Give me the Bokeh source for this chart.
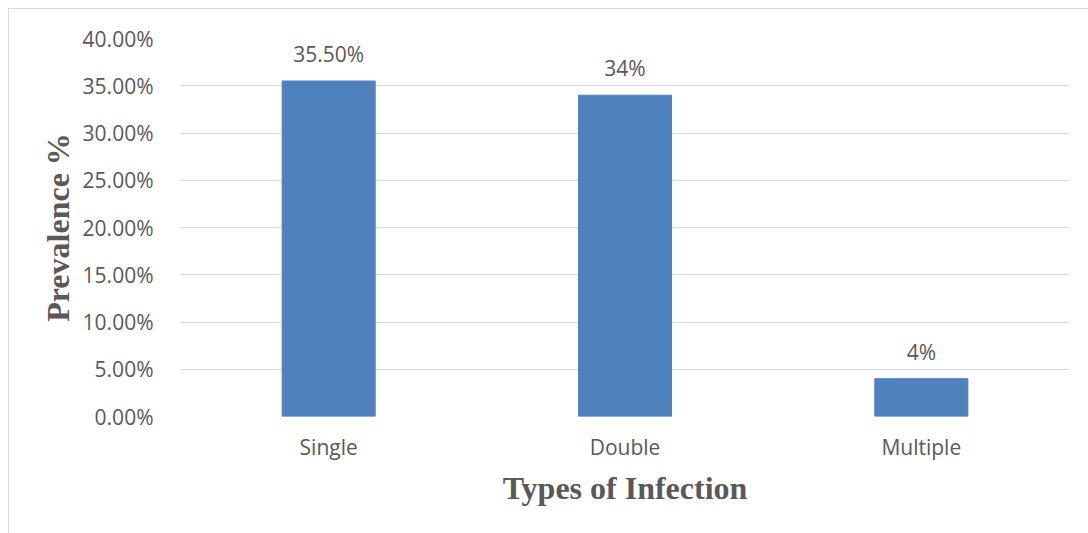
from bokeh.plotting import figure
from bokeh.models import ColumnDataSource, NumeralTickFormatter, FixedTicker, Range1d
from bokeh.core.properties import value
from bokeh.embed import file_html
from bokeh.resources import INLINE

# Prevalence by type of infection
categories = ["Single", "Double", "Multiple"]
prevalence = [0.355, 0.34, 0.04]
bar_labels = ["35.50%", "34%", "4%"]
y_ticks = [0.0, 0.05, 0.10, 0.15, 0.20, 0.25, 0.30, 0.35, 0.40]

TEXT = "#595959"
GRID = "#d9d9d9"
BAR = "#4F81BD"
LABEL_SIZE = "21px"

source = ColumnDataSource(dict(cat=categories, val=prevalence, lab=bar_labels))

p = figure(
    x_range=categories,
    y_range=Range1d(0, 0.40),
    width=1080, height=525,
    output_backend="svg",
    toolbar_location=None,
    min_border_left=171, min_border_right=20,
    min_border_top=29, min_border_bottom=118,
)
p.styles = {
    "margin-left": "8px",
    "margin-top": "8px",
    "border-top": f"1px solid {GRID}",
    "border-left": f"1px solid {GRID}",
}
p.outline_line_color = None
p.background_fill_color = "white"
p.border_fill_color = "white"

p.vbar(x="cat", top="val", width=0.314, source=source,
       fill_color=BAR, line_color=BAR)

p.text(x="cat", y="val", text="lab", source=source,
       text_align="center", text_baseline="alphabetic", y_offset=-27,
       text_font=value("Open Sans"), text_font_size=LABEL_SIZE, text_color=TEXT)

# y axis
p.yaxis.ticker = FixedTicker(ticks=y_ticks)
p.yaxis.formatter = NumeralTickFormatter(format="0.00%")
p.yaxis.axis_line_color = None
p.yaxis.major_tick_line_color = None
p.yaxis.minor_tick_line_color = None
p.yaxis.major_label_standoff = 21
p.yaxis.major_label_text_font = "Open Sans"
p.yaxis.major_label_text_font_size = LABEL_SIZE
p.yaxis.major_label_text_color = TEXT
p.yaxis.axis_label = "Prevalence %"
p.yaxis.axis_label_text_font = "Liberation Serif"
p.yaxis.axis_label_text_font_style = "bold"
p.yaxis.axis_label_text_font_size = "32px"
p.yaxis.axis_label_text_color = TEXT
p.yaxis.axis_label_standoff = 4

# x axis
p.xaxis.axis_line_color = None
p.xaxis.major_tick_line_color = None
p.xaxis.minor_tick_line_color = None
p.xaxis.major_label_standoff = 10
p.xaxis.major_label_text_font = "Open Sans"
p.xaxis.major_label_text_font_size = LABEL_SIZE
p.xaxis.major_label_text_color = TEXT
p.xaxis.axis_label = "Types of Infection"
p.xaxis.axis_label_text_font = "Liberation Serif"
p.xaxis.axis_label_text_font_style = "bold"
p.xaxis.axis_label_text_font_size = "32px"
p.xaxis.axis_label_text_color = TEXT
p.xaxis.axis_label_standoff = 6

p.xgrid.grid_line_color = None
p.ygrid.grid_line_color = GRID
p.ygrid.grid_line_width = 1

open("out.html", "w").write(file_html(p, INLINE))
